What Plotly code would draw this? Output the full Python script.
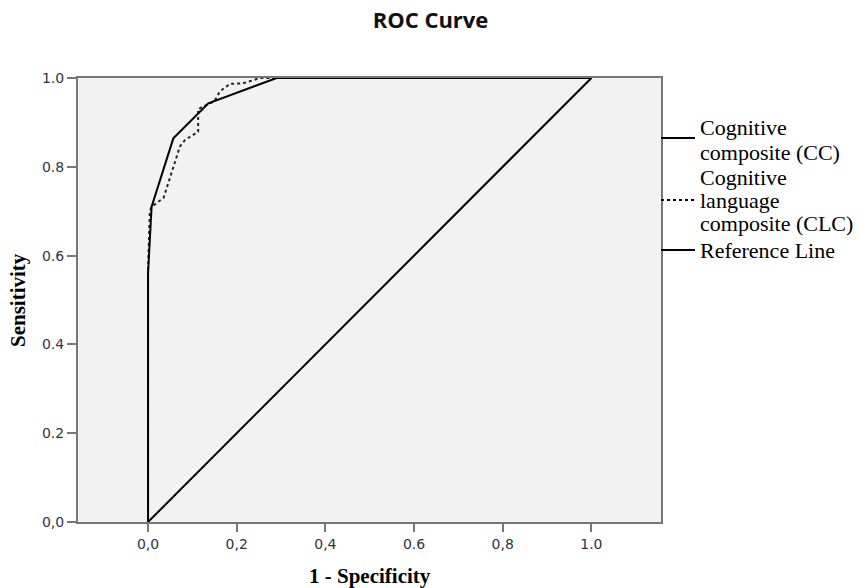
import plotly.graph_objects as go

# ---- data ----
cc_fpr = [0.0, 0.0, 0.008, 0.057, 0.136, 0.29, 1.0]
cc_tpr = [0.0, 0.56, 0.71, 0.864, 0.943, 1.0, 1.0]

clc_fpr = [0.0, 0.0, 0.004, 0.008, 0.035, 0.072, 0.083, 0.113, 0.113, 0.15, 0.162, 0.185, 0.214, 0.253, 1.0]
clc_tpr = [0.0, 0.57, 0.70, 0.71, 0.73, 0.846, 0.86, 0.879, 0.93, 0.948, 0.97, 0.987, 0.988, 1.0, 1.0]

ref_x = [0.0, 1.0]
ref_y = [0.0, 1.0]

x_ticks = [0.0, 0.2, 0.4, 0.6, 0.8, 1.0]
x_ticktext = ["0,0", "0,2", "0,4", "0.6", "0,8", "1.0"]
y_ticks = [0.0, 0.2, 0.4, 0.6, 0.8, 1.0]
y_ticktext = ["0,0", "0.2", "0.4", "0.6", "0.8", "1.0"]

legend_lines = [["Cognitive", "composite (CC)"],
                ["Cognitive", "language", "composite (CLC)"],
                ["Reference Line"]]
legend_dash = ["solid", "dot", "solid"]

# ---- layout geometry (pixels) ----
W, H = 861, 588
L, R, T, B = 78, 200, 78, 66
plot_w = W - L - R
plot_h = H - T - B


def px_x(px):
    return (px - L) / plot_w


def px_y(py):
    return (H - B - py) / plot_h


legend_sym_y = [138, 200, 250]
legend_text_y = [[127, 152], [177, 200, 223], [250]]

fig = go.Figure()
fig.add_trace(go.Scatter(x=ref_x, y=ref_y, mode="lines",
                         line=dict(color="black", width=2), name="Reference Line"))
fig.add_trace(go.Scatter(x=clc_fpr, y=clc_tpr, mode="lines",
                         line=dict(color="#222222", width=2, dash="dot"),
                         name="Cognitive language composite (CLC)"))
fig.add_trace(go.Scatter(x=cc_fpr, y=cc_tpr, mode="lines",
                         line=dict(color="black", width=2), name="Cognitive composite (CC)"))

tickfont = dict(family="DejaVu Sans", size=14, color="#333344")
axis_common = dict(showgrid=False, zeroline=False, showline=True, mirror=True,
                   linecolor="#777777", linewidth=2, ticks="outside",
                   tickcolor="#777777", tickwidth=2, tickfont=tickfont)

fig.update_xaxes(range=[-0.158, 1.157], tickvals=x_ticks, ticktext=x_ticktext,
                 ticklen=8, **axis_common)
fig.update_yaxes(range=[0, 1], tickvals=y_ticks, ticktext=y_ticktext,
                 ticklen=9, **axis_common)

shapes = []
annotations = []
legend_font = dict(family="Liberation Serif", size=22, color="black")
for lines, dash, sy, tys in zip(legend_lines, legend_dash, legend_sym_y, legend_text_y):
    shapes.append(dict(type="line", xref="paper", yref="paper",
                       x0=1.0, x1=px_x(695), y0=px_y(sy), y1=px_y(sy),
                       line=dict(color="black", width=2, dash=dash)))
    for txt, ty in zip(lines, tys):
        annotations.append(dict(xref="paper", yref="paper", x=px_x(698), y=px_y(ty),
                                xanchor="left", yanchor="middle", align="left",
                                text=txt, showarrow=False, font=legend_font))

axis_title_font = dict(family="Liberation Serif", size=21, color="black")
annotations.append(dict(xref="paper", yref="paper", x=0.5, y=px_y(576),
                        xanchor="center", yanchor="middle", showarrow=False,
                        text="<b>1 - Specificity</b>", font=axis_title_font))
annotations.append(dict(xref="paper", yref="paper", x=px_x(18), y=0.5,
                        xanchor="center", yanchor="middle", showarrow=False,
                        textangle=-90, text="<b>Sensitivity</b>", font=axis_title_font))

fig.update_layout(
    width=W, height=H,
    margin=dict(l=L, r=R, t=T, b=B),
    paper_bgcolor="white", plot_bgcolor="#f2f2f2",
    showlegend=False,
    title=dict(text="<b>ROC Curve</b>", x=0.5, xref="container", xanchor="center",
               y=1 - 20 / H, yref="container", yanchor="middle",
               font=dict(family="Open Sans", size=22, color="#111111")),
    shapes=shapes, annotations=annotations,
)

fig.write_html("out.html", config={"displayModeBar": False},
               post_script="document.body.style.margin='0';document.body.style.overflow='hidden';")
